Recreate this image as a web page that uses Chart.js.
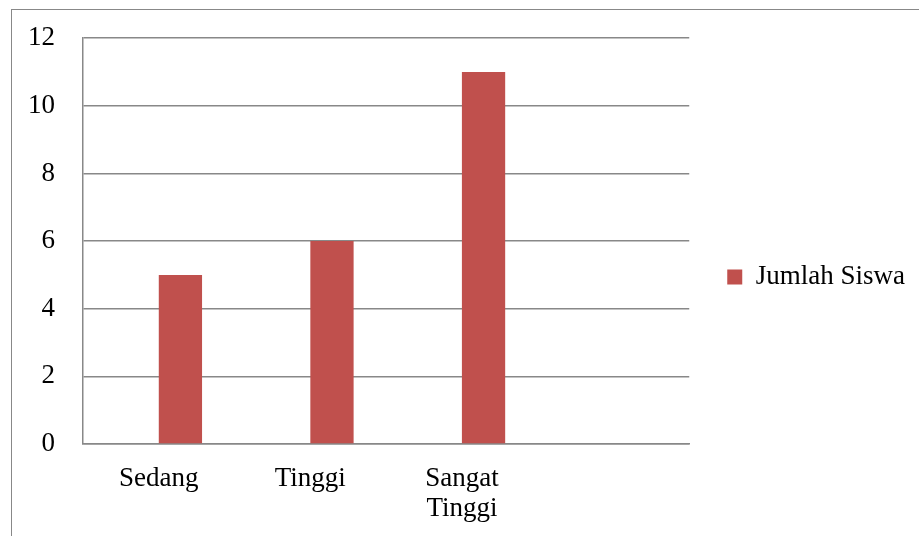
<!DOCTYPE html>
<html>
<head>
<meta charset="utf-8">
<script src="https://cdn.jsdelivr.net/npm/chart.js@4"></script>
<style>
  body { margin: 0; background: #fff; overflow: hidden; }
  #wrap { position: relative; width: 919px; height: 536px; }
  #frame { position: absolute; left: 11px; top: 9px; width: 1000px; height: 1000px;
           border-left: 1.5px solid #888; border-top: 1.5px solid #888; }
</style>
</head>
<body>
<div id="wrap">
  <div id="frame"></div>
  <canvas id="chart"></canvas>
</div>
<script>
// categories (last slot is empty in the original sheet)
const categories = ["Sedang", "Tinggi", ["Sangat", "Tinggi"], ""];
const jumlahSiswa = [5, 6, 11, null];
const emptySeries = [null, null, null, null];
const yTicks = { min: 0, max: 12, step: 2 };

const FONT = "'Liberation Serif', 'Times New Roman', serif";
const GRID = "#888888";

document.addEventListener("DOMContentLoaded", () => {
  const ctx = document.getElementById("chart");
  new Chart(ctx, {
    type: "bar",
    data: {
      labels: categories,
      datasets: [
        { label: "", data: emptySeries, backgroundColor: "#4F81BD" },
        { label: "Jumlah Siswa", data: jumlahSiswa, backgroundColor: "#C0504D" },
      ],
    },
    options: {
      responsive: true,
      maintainAspectRatio: false,
      animation: false,
      events: [],
      categoryPercentage: 0.571,
      barPercentage: 1,
      // top of plot ends up at ~38px (tick half-height + tick padding)
      layout: { padding: { top: 18, bottom: 0, left: 0, right: 4 } },
      scales: {
        x: {
          grid: { display: false },
          border: { display: true, color: GRID, width: 1.5 },
          ticks: {
            color: "#000",
            font: { family: FONT, size: 27, lineHeight: 1.1 },
            padding: 12,
            maxRotation: 0,
            autoSkip: false,
          },
          afterFit: (s) => { s.height = 92; },
        },
        y: {
          min: yTicks.min,
          max: yTicks.max,
          ticks: {
            stepSize: yTicks.step,
            color: "#000",
            font: { family: FONT, size: 27, lineHeight: 0.75 },
            padding: 28,
          },
          grid: { color: GRID, lineWidth: 1.5, drawTicks: false, tickLength: 0 },
          border: { display: true, color: GRID, width: 1.5 },
          afterFit: (s) => { s.width = 83; },
        },
      },
      plugins: {
        tooltip: { enabled: false },
        legend: {
          position: "right",
          labels: {
            color: "#000",
            font: { family: FONT, size: 27 },
            boxWidth: 15,
            boxHeight: 15,
            padding: 38,
            filter: (item) => item.text !== "",
          },
        },
      },
    },
  });
});
</script>
</body>
</html>
